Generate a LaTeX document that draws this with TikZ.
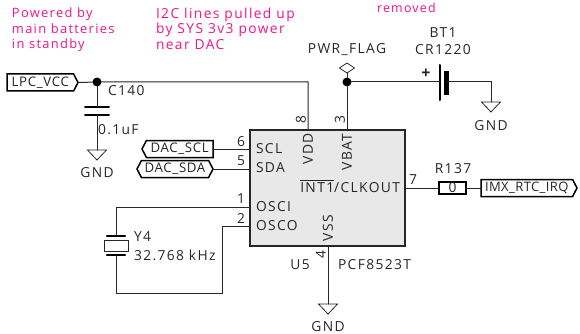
\documentclass[tikz,border=0pt]{standalone}
\usepackage{fontspec}
\setmainfont[LetterSpace=10]{Open Sans}
\usetikzlibrary{shapes.symbols,shapes.geometric}
\definecolor{note}{RGB}{240,20,140}
\definecolor{chip}{RGB}{232,232,232}
\begin{document}
\begin{tikzpicture}[x=1pt,y=-1pt,line width=1pt,line cap=round]
	\tikzstyle{every node}=[inner sep=0pt,outer sep=0pt,font=\fontsize{13.8}{15.5}\selectfont,text=black!85]
	\tikzstyle{wire}=[draw=black!85,line width=1pt]
	\tikzstyle{lbl}=[anchor=west]
	\tikzstyle{pin}=[font=\fontsize{13.8}{14}\selectfont]
	\tikzstyle{remark}=[anchor=north west,align=left,text=note,font=\fontsize{13.8}{15.5}\selectfont]
	\tikzstyle{flag}=[signal,draw=black,line width=1.5pt,fill=white,minimum height=17pt,inner xsep=1pt,signal pointer angle=125,font=\fontsize{13.2}{15}\selectfont\addfontfeature{LetterSpace=5}]
	\tikzstyle{gnd}=[isosceles triangle,isosceles triangle apex angle=90,shape border rotate=-90,draw=black!85,line width=.8pt,minimum width=19pt,isosceles triangle stretches,minimum height=10pt]
	\tikzstyle{plate}=[draw=black,line width=2pt]

	\useasboundingbox (0,0) rectangle (580,334);

	% notes
	\node [remark,font=\fontsize{12.9}{15.5}\selectfont] (n1) at (12,8) {Powered by\\main batteries\\in standby};
	\node [remark] (n2) at (156,8) {I2C lines pulled up\\by SYS 3v3 power\\near DAC};
	\node [remark,anchor=west,font=\fontsize{12.4}{15}\selectfont] (n3) at (377,8) {removed};

	% chip
	\node [draw=black!85,fill=chip,line width=1.6pt,minimum width=155pt,minimum height=116pt] (u5) at (327.5,188) {};
	\node (u5name) at (300,265) {U5};
	\node [lbl] (u5val) at (338,265) {PCF8523T};

	\node [lbl] (scl) at (256,149) {SCL};
	\node [lbl] (sda) at (256,168) {SDA};
	\node [lbl] (osci) at (256,207) {OSCI};
	\node [lbl] (osco) at (256,226) {OSCO};
	\node [anchor=east] (int) at (400,186) {$\overline{\mbox{\rule{0pt}{11.5pt}INT1}}$/CLKOUT};
	\node [rotate=90,pin] (vdd) at (308,149) {VDD};
	\node [rotate=90,pin] (vbat) at (347,152) {VBAT};
	\node [rotate=90,pin] (vss) at (328,228) {VSS};

	% pin ends
	\coordinate (p1) at (250,207);
	\coordinate (p2) at (250,226);
	\coordinate (p3) at (347,130);
	\coordinate (p4) at (328,246);
	\coordinate (p5) at (250,169);
	\coordinate (p6) at (250,149);
	\coordinate (p7) at (405,188);
	\coordinate (p8) at (308,130);

	\node [pin] (n_1) at (241,199) {1};
	\node [pin] (n_2) at (241,219) {2};
	\node [pin,rotate=90] (n_3) at (340,120) {3};
	\node [pin,rotate=90] (n_4) at (321,255) {4};
	\node [pin] (n_5) at (241,161) {5};
	\node [pin] (n_6) at (241,142) {6};
	\node [pin] (n_7) at (413,180) {7};
	\node [pin,rotate=90] (n_8) at (301,120) {8};

	% flags
	\node [flag,signal to=east,anchor=west,minimum width=71pt] (vcc) at (7,82.5) {LPC\_VCC};
	\node [flag,signal to=west,anchor=east,minimum width=71pt] (dscl) at (213,149) {DAC\_SCL};
	\node [flag,signal to=east and west,anchor=east,minimum width=76pt] (dsda) at (213,169) {DAC\_SDA};
	\node [flag,signal to=east,anchor=west,minimum width=96pt,font=\fontsize{13}{15}\selectfont\addfontfeature{LetterSpace=3}] (irq) at (481,188) {IMX\_RTC\_IRQ};

	% supply
	\coordinate (top) at (308,82);
	\node [circle,fill=black,minimum size=9pt] (j1) at (97,82) {};
	\node [circle,fill=black,minimum size=9pt] (j2) at (347,82) {};
	\node [diamond,draw=black!85,fill=white,line width=.8pt,minimum width=15pt,minimum height=10pt] (flagd) at (347,68) {};
	\node (pwr) at (347,50) {PWR\_FLAG};

	% C140
	\coordinate (c1) at (97,107);
	\coordinate (c2) at (97,115);
	\draw [plate] (85,107) -- (109,107);
	\draw [plate] (85,115) -- (109,115);
	\node [lbl] (c140) at (108,91) {C140};
	\node [lbl] (c140v) at (98,130) {0.1uF};
	\node [gnd,anchor=apex] (g1) at (97,160) {};
	\node (g1t) at (97,173) {GND};

	% BT1
	\coordinate (b1) at (440,82);
	\coordinate (b2) at (447,82);
	\draw [plate] (440,65) -- (440,100);
	\draw [draw=black,line width=5pt,line cap=butt] (446.5,71) -- (446.5,95);
	\node [font=\bfseries\fontsize{16}{16}\selectfont] (plus) at (426,74) {+};
	\node (bt1) at (443,33) {BT1};
	\node (cr) at (443,50) {CR1220};
	\coordinate (bc) at (491,82);
	\node [gnd,anchor=apex] (g2) at (491,112) {};
	\node (g2t) at (491,126) {GND};

	% Y4
	\coordinate (yt) at (116,207);
	\coordinate (yb) at (116,293);
	\coordinate (yr) at (222,293);
	\coordinate (yq) at (222,226);
	\coordinate (y1) at (116,236);
	\coordinate (y2) at (116,255);
	\draw [plate,line width=2.2pt] (107,236) -- (125,236);
	\draw [plate,line width=2.2pt] (107,255) -- (125,255);
	\node [draw=black!85,line width=1pt,minimum width=24pt,minimum height=11pt] (y4) at (116,245.5) {};
	\node [lbl] (y4n) at (134,237) {Y4};
	\node [lbl] (y4v) at (134,255) {32.768 kHz};

	% R137
	\node [draw=black,line width=1.5pt,minimum width=27pt,minimum height=12pt] (r137) at (452.5,188) {0};
	\node (r137n) at (453,169) {R137};

	\node [gnd,anchor=apex] (g3) at (328,314) {};
	\node (g3t) at (328,327) {GND};

	% wires
	\draw [wire] (vcc.east) -- (j1) -- (top) -- (p8);
	\draw [wire] (j1) -- (c1);
	\draw [wire] (c2) -- (g1.lower side);
	\draw [wire] (flagd) -- (j2) -- (p3);
	\draw [wire] (j2) -- (b1);
	\draw [wire] (b2) -- (bc) -- (g2.lower side);
	\draw [wire] (dscl.east) -- (p6);
	\draw [wire] (dsda.east) -- (p5);
	\draw [wire] (p1) -- (yt) -- (y1);
	\draw [wire] (y2) -- (yb) -- (yr) -- (yq) -- (p2);
	\draw [wire] (p4) -- (g3.lower side);
	\draw [wire] (p7) -- (r137.west);
	\draw [wire] (r137.east) -- (irq.west);
\end{tikzpicture}
\end{document}
